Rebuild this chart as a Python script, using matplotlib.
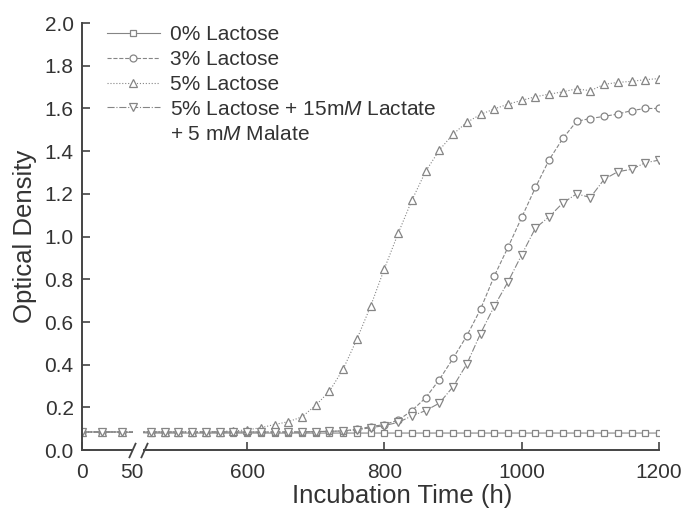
import matplotlib.pyplot as plt
import matplotlib.patches as mpatches
import numpy as np

plt.rcParams['font.family'] = 'Liberation Sans'
plt.rcParams['mathtext.fontset'] = 'custom'
plt.rcParams['mathtext.rm'] = 'Liberation Sans'
plt.rcParams['mathtext.it'] = 'Liberation Sans:italic'

text_col = '#333333'
axis_col = '#444444'
line_col = '#858585'

# incubation time (h), axis is broken between 50 and 450
hours = [0, 20, 40,
         460, 480, 500, 520, 540, 560, 580, 600, 620, 640, 660, 680, 700,
         720, 740, 760, 780, 800, 820, 840, 860, 880, 900, 920, 940, 960,
         980, 1000, 1020, 1040, 1060, 1080, 1100, 1120, 1140, 1160, 1180,
         1200]

lac0 = [0.085, 0.085, 0.085,
        0.08, 0.08, 0.08, 0.08, 0.08, 0.08, 0.08, 0.08, 0.08, 0.08, 0.08,
        0.08, 0.08, 0.08, 0.08, 0.08, 0.08, 0.08, 0.08, 0.08, 0.08, 0.08,
        0.08, 0.08, 0.08, 0.08, 0.08, 0.08, 0.08, 0.08, 0.08, 0.08, 0.08,
        0.08, 0.08, 0.08, 0.08, 0.08]

lac3 = [0.085, 0.085, 0.085,
        0.085, 0.085, 0.085, 0.085, 0.085, 0.085, 0.085, 0.085, 0.085,
        0.085, 0.085, 0.085, 0.087, 0.088, 0.09, 0.098, 0.11, 0.12, 0.14,
        0.185, 0.245, 0.33, 0.43, 0.535, 0.66, 0.815, 0.95, 1.09, 1.23,
        1.36, 1.46, 1.54, 1.553, 1.563, 1.574, 1.59, 1.60, 1.60]

lac5 = [0.085, 0.085, 0.085,
        0.085, 0.085, 0.085, 0.085, 0.085, 0.087, 0.09, 0.095, 0.105,
        0.12, 0.133, 0.156, 0.21, 0.276, 0.38, 0.52, 0.675, 0.85, 1.015,
        1.17, 1.305, 1.405, 1.48, 1.535, 1.572, 1.598, 1.62, 1.638, 1.655,
        1.667, 1.678, 1.692, 1.683, 1.713, 1.722, 1.727, 1.735, 1.74]

lac5_lm = [0.085, 0.085, 0.085,
           0.085, 0.085, 0.085, 0.085, 0.085, 0.085, 0.085, 0.085, 0.085,
           0.085, 0.085, 0.085, 0.087, 0.088, 0.09, 0.095, 0.105, 0.115,
           0.13, 0.16, 0.185, 0.22, 0.297, 0.403, 0.546, 0.674, 0.788,
           0.915, 1.04, 1.093, 1.158, 1.2, 1.183, 1.268, 1.304, 1.315,
           1.346, 1.358]

BREAK_LO, BREAK_HI = 50, 450


def fwd(x):
    x = np.asarray(x, dtype=float)
    return np.where(x <= BREAK_LO, x,
                    np.where(x <= BREAK_HI, 50 + (x - 50) * 0.03,
                             62 + (x - 450) * 0.685))


def inv(y):
    y = np.asarray(y, dtype=float)
    return np.where(y <= 50, y,
                    np.where(y <= 62, 50 + (y - 50) / 0.03,
                             450 + (y - 62) / 0.685))


fig = plt.figure(figsize=(6.89, 5.18), dpi=100)
ax = fig.add_axes([0.119, 0.131, 0.8375, 0.8245])
ax.set_xscale('function', functions=(fwd, inv))

kw = dict(color=line_col, lw=0.8, markerfacecolor='white',
          markeredgecolor=line_col, markeredgewidth=0.9)
ax.plot(hours, lac0, '-', marker='s', ms=4.2, label='0% Lactose', **kw)
ax.plot(hours, lac3, '--', marker='o', ms=5, label='3% Lactose', **kw)
ax.plot(hours, lac5, ':', marker='^', ms=5.8, label='5% Lactose', **kw)
ax.plot(hours, lac5_lm, '-.', marker='v', ms=5.8,
        label='5% Lactose + 15m$M$ Lactate', **kw)
ax.plot([], [], linestyle='none', label='+ 5 m$M$ Malate')

ax.set_xlim(0, 1200)
ax.set_ylim(0, 2.0)
ax.set_xticks([0, 50, 600, 800, 1000, 1200])
ax.set_xticklabels(['0', '50', '600', '800', '1000', '1200'])
ax.set_yticks(np.arange(0, 2.01, 0.2))
ax.set_yticklabels(['%.1f' % v for v in np.arange(0, 2.01, 0.2)])
ax.xaxis.get_major_ticks()[1].tick1line.set_visible(False)

for s in ['top', 'right']:
    ax.spines[s].set_visible(False)
for s in ['left', 'bottom']:
    ax.spines[s].set_linewidth(1.4)
    ax.spines[s].set_color(axis_col)
ax.tick_params(direction='in', length=6, width=1.2, color=axis_col,
               labelsize=15, labelcolor=text_col)
ax.tick_params(axis='x', pad=9)
ax.tick_params(axis='y', pad=6)

# axis break: blank out the gap, then draw the // marks
trans = ax.get_xaxis_transform()
ax.add_patch(mpatches.Rectangle((90, -0.03), 330, 0.12, transform=trans,
                                facecolor='white', edgecolor='none',
                                clip_on=False, zorder=3))
ax.plot([BREAK_LO, BREAK_HI], [0, 0], transform=trans, linestyle='none',
        marker=[(-0.45, -1), (0.45, 1)], ms=11, mew=1.3, color=axis_col,
        clip_on=False, zorder=4)

ax.set_xlabel('Incubation Time (h)', fontsize=18.5, color=text_col)
ax.xaxis.set_label_coords(0.555, -0.08)
ax.set_ylabel('Optical Density', fontsize=18.5, color=text_col, labelpad=5)

leg = ax.legend(loc='upper left', bbox_to_anchor=(0.043, 0.995),
                frameon=False, fontsize=15, borderpad=0, borderaxespad=0,
                handlelength=2.55, handletextpad=0.5, labelspacing=0.28)
for t in leg.get_texts():
    t.set_color(text_col)

fig.savefig('out.png', dpi=100)
